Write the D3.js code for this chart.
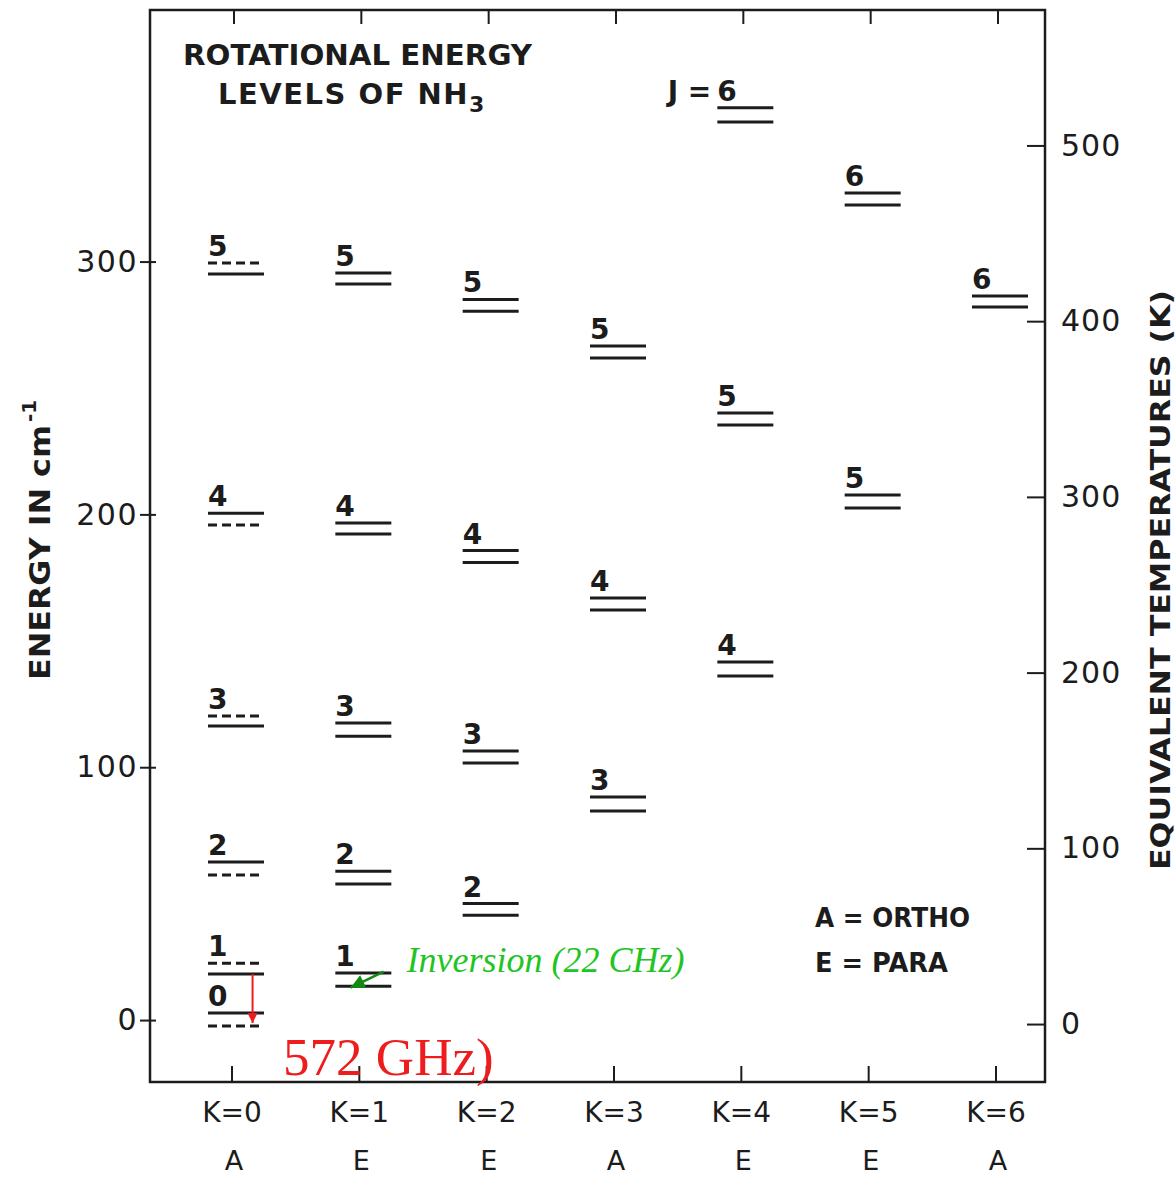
<!DOCTYPE html>
<html>
<head>
<meta charset="utf-8">
<script src="https://cdn.jsdelivr.net/npm/d3@7"></script>
<style>
  body { margin: 0; background: #fff; }
</style>
</head>
<body>
<div id="chart"></div>
<script>
// K ladders along the bottom
const kValues = [0, 1, 2, 3, 4, 5, 6];
const kLabels = ["K=0", "K=1", "K=2", "K=3", "K=4", "K=5", "K=6"];
const symLabels = ["A", "E", "E", "A", "E", "E", "A"];

const energyTicks = [0, 100, 200, 300];
const tempTicks = [0, 100, 200, 300, 400, 500];

// each level: K, J, upper / lower inversion component (cm^-1)
const levelK = [0, 0, 0, 0, 0, 0, 1, 1, 1, 1, 1, 2, 2, 2, 2, 3, 3, 3, 4, 4, 4, 5, 5, 6];
const levelJ = [0, 1, 2, 3, 4, 5, 1, 2, 3, 4, 5, 2, 3, 4, 5, 3, 4, 5, 4, 5, 6, 5, 6, 6];
const upperE = [2.8, 22.5, 62.5, 120.3, 200.5, 299.4,
                18.6, 58.9, 117.5, 196.6, 295.5,
                46.1, 106.4, 185.7, 285.0,
                88.2, 166.9, 266.6,
                141.6, 240.1, 360.8,
                207.7, 327.1,
                286.4];
const lowerE = [-2.4, 18.2, 57.4, 116.3, 195.8, 295.1,
                13.4, 53.8, 112.3, 192.2, 291.1,
                41.5, 101.7, 181.0, 280.3,
                82.7, 162.2, 261.9,
                136.1, 235.4, 355.2,
                202.5, 322.4,
                282.0];
// missing component (drawn dashed) for K=0
const dashedPart = ["lower", "upper", "lower", "upper", "lower", "upper",
                    "", "", "", "", "", "", "", "", "", "", "", "", "", "", "", "", "", ""];

const cm2K = 1.4388;

const W = 1175, H = 1180;
const plot = { left: 150, right: 1045, top: 10, bottom: 1082 };

const svg = d3.select('#chart')
    .append('svg')
    .attr('width', W)
    .attr('height', H)
    .style('font-family', '"DejaVu Sans", sans-serif');

const xScale = d3.scaleLinear()
    .domain([0, 6])
    .range([236, 1000]);

const yScale = d3.scaleLinear()
    .domain([-24.5, 399.5])
    .range([plot.bottom, plot.top]);

const tScale = d3.scaleLinear()
    .domain([-24.5 * cm2K, 399.5 * cm2K])
    .range([plot.bottom + 4, plot.top + 4]);

const ink = '#1c1c1c';

// frame
svg.append('rect')
    .attr('x', plot.left)
    .attr('y', plot.top)
    .attr('width', plot.right - plot.left)
    .attr('height', plot.bottom - plot.top)
    .attr('fill', 'none')
    .attr('stroke', ink)
    .attr('stroke-width', 2.5);

// top and bottom ticks at each K
svg.selectAll('.ttick')
    .data(kValues)
    .enter()
    .append('line')
    .attr('x1', d => xScale(d) - 2).attr('x2', d => xScale(d) - 2)
    .attr('y1', plot.top).attr('y2', plot.top + 14)
    .attr('stroke', ink).attr('stroke-width', 2);

svg.selectAll('.btick')
    .data(kValues)
    .enter()
    .append('line')
    .attr('x1', d => xScale(d) - 4).attr('x2', d => xScale(d) - 4)
    .attr('y1', plot.bottom).attr('y2', plot.bottom - 16)
    .attr('stroke', ink).attr('stroke-width', 2);

// left energy axis
const leftAxis = svg.append('g')
    .attr('transform', `translate(${plot.left},0)`)
    .call(d3.axisLeft(yScale).tickValues(energyTicks).tickSizeInner(10).tickSizeOuter(0).tickPadding(2));
leftAxis.select('.domain').remove();
leftAxis.selectAll('line').attr('x1', 6).attr('stroke', ink).attr('stroke-width', 2);
leftAxis.selectAll('text')
    .attr('font-size', 30)
    .attr('letter-spacing', 1.5)
    .attr('fill', ink)
    .attr('font-family', '"DejaVu Sans", sans-serif');

// right temperature axis
const rightAxis = svg.append('g')
    .attr('transform', `translate(${plot.right},0)`)
    .call(d3.axisRight(tScale).tickValues(tempTicks).tickSizeInner(-18).tickSizeOuter(0).tickPadding(16));
rightAxis.select('.domain').remove();
rightAxis.selectAll('line').attr('stroke', ink).attr('stroke-width', 2);
rightAxis.selectAll('text')
    .attr('font-size', 30)
    .attr('letter-spacing', 1)
    .attr('fill', ink)
    .attr('font-family', '"DejaVu Sans", sans-serif');

// energy levels
const levels = levelK.map((k, i) => ({
    k: k, j: levelJ[i], up: upperE[i], lo: lowerE[i], dash: dashedPart[i]
}));
const halfW = 28;

const lev = svg.selectAll('.level')
    .data(levels)
    .enter()
    .append('g')
    .attr('class', 'level');

lev.append('line')
    .attr('x1', d => xScale(d.k) - halfW)
    .attr('x2', d => xScale(d.k) + halfW)
    .attr('y1', d => yScale(d.up))
    .attr('y2', d => yScale(d.up))
    .attr('stroke', ink)
    .attr('stroke-width', 3)
    .attr('stroke-dasharray', d => d.dash === 'upper' ? '9,5' : null);

lev.append('line')
    .attr('x1', d => xScale(d.k) - halfW)
    .attr('x2', d => xScale(d.k) + halfW)
    .attr('y1', d => yScale(d.lo))
    .attr('y2', d => yScale(d.lo))
    .attr('stroke', ink)
    .attr('stroke-width', 3)
    .attr('stroke-dasharray', d => d.dash === 'lower' ? '9,5' : null);

lev.append('text')
    .attr('x', d => xScale(d.k) - halfW)
    .attr('y', d => yScale(d.up) - 7)
    .attr('font-size', 28)
    .attr('font-weight', 'bold')
    .attr('fill', ink)
    .text(d => d.j);

// "J =" in front of the highest level
const topLevel = levels[d3.maxIndex(levels, d => d.up)];
svg.append('text')
    .attr('x', xScale(topLevel.k) - halfW - 6)
    .attr('y', yScale(topLevel.up) - 7)
    .attr('text-anchor', 'end')
    .attr('font-size', 28)
    .attr('font-weight', 'bold')
    .attr('fill', ink)
    .text('J = ');

// bottom K labels and symmetry
svg.selectAll('.klabel')
    .data(kValues)
    .enter()
    .append('text')
    .attr('x', d => xScale(d) - 4)
    .attr('y', 1122)
    .attr('text-anchor', 'middle')
    .attr('font-size', 28)
    .attr('fill', ink)
    .text(d => kLabels[d]);

svg.selectAll('.sym')
    .data(kValues)
    .enter()
    .append('text')
    .attr('x', d => xScale(d) - 2)
    .attr('y', 1170)
    .attr('text-anchor', 'middle')
    .attr('font-size', 27)
    .attr('fill', ink)
    .text(d => symLabels[d]);

// title
svg.append('text')
    .attr('x', 183)
    .attr('y', 65)
    .attr('font-size', 29)
    .attr('font-weight', 'bold')
    .attr('textLength', 349)
    .attr('lengthAdjust', 'spacingAndGlyphs')
    .attr('fill', ink)
    .text('ROTATIONAL ENERGY');

const t2 = svg.append('text')
    .attr('x', 218)
    .attr('y', 104)
    .attr('font-size', 29)
    .attr('font-weight', 'bold')
    .attr('letter-spacing', 1.5)
    .attr('fill', ink);
t2.append('tspan').text('LEVELS OF NH');
t2.append('tspan').attr('dy', 8).attr('font-size', 22).text('3');

// axis titles
const yt = svg.append('g').attr('transform', 'translate(50,680) rotate(-90)');
yt.append('text')
    .attr('x', 0).attr('y', 0)
    .attr('font-size', 28)
    .attr('font-weight', 'bold')
    .attr('textLength', 255)
    .attr('lengthAdjust', 'spacingAndGlyphs')
    .attr('fill', ink)
    .text('ENERGY IN cm');
yt.append('text')
    .attr('x', 258).attr('y', -14)
    .attr('font-size', 20)
    .attr('font-weight', 'bold')
    .attr('fill', ink)
    .text('-1');

svg.append('g').attr('transform', 'translate(1170,870) rotate(-90)')
    .append('text')
    .attr('x', 0).attr('y', 0)
    .attr('font-size', 26)
    .attr('font-weight', 'bold')
    .attr('textLength', 580)
    .attr('lengthAdjust', 'spacingAndGlyphs')
    .attr('fill', ink)
    .text('EQUIVALENT TEMPERATURES (K)');

// legend
svg.append('text')
    .attr('x', 815).attr('y', 927)
    .attr('font-size', 27).attr('font-weight', 'bold')
    .attr('textLength', 155).attr('lengthAdjust', 'spacingAndGlyphs')
    .attr('fill', ink)
    .text('A = ORTHO');
svg.append('text')
    .attr('x', 815).attr('y', 972)
    .attr('font-size', 27).attr('font-weight', 'bold')
    .attr('textLength', 133).attr('lengthAdjust', 'spacingAndGlyphs')
    .attr('fill', ink)
    .text('E = PARA');

// annotations
const red = '#ee1c1c';
const green = '#22c422';
const darkGreen = '#118a11';

const defs = svg.append('defs');
defs.append('marker')
    .attr('id', 'headRed')
    .attr('viewBox', '0 0 10 10')
    .attr('refX', 10).attr('refY', 5)
    .attr('markerWidth', 16).attr('markerHeight', 10)
    .attr('markerUnits', 'userSpaceOnUse')
    .attr('orient', 'auto')
    .append('path').attr('d', 'M0,0 L10,5 L0,10 Z').attr('fill', red);
defs.append('marker')
    .attr('id', 'headGreen')
    .attr('viewBox', '0 0 10 10')
    .attr('refX', 10).attr('refY', 5)
    .attr('markerWidth', 18).attr('markerHeight', 14)
    .attr('markerUnits', 'userSpaceOnUse')
    .attr('orient', 'auto')
    .append('path').attr('d', 'M0,0 L10,5 L0,10 Z').attr('fill', darkGreen);

// J=1 -> 0 rotational transition
svg.append('line')
    .attr('x1', xScale(0.13)).attr('x2', xScale(0.13))
    .attr('y1', yScale(lowerE[1]))
    .attr('y2', yScale(-1.2))
    .attr('stroke', red)
    .attr('stroke-width', 2)
    .attr('marker-end', 'url(#headRed)');

svg.append('text')
    .attr('x', xScale(0.37))
    .attr('y', 1075)
    .attr('font-family', '"Liberation Serif", "Times New Roman", serif')
    .attr('font-size', 53)
    .attr('fill', red)
    .text('572 GHz)');

// inversion doublet arrow
svg.append('line')
    .attr('x1', xScale(1.16)).attr('x2', xScale(0.9))
    .attr('y1', yScale(19.2))
    .attr('y2', yScale(12.8))
    .attr('stroke', darkGreen)
    .attr('stroke-width', 2.5)
    .attr('marker-end', 'url(#headGreen)');

svg.append('text')
    .attr('x', xScale(1.34))
    .attr('y', yScale(19.2))
    .attr('font-family', '"Liberation Serif", "Times New Roman", serif')
    .attr('font-style', 'italic')
    .attr('font-size', 36)
    .attr('fill', green)
    .text('Inversion (22 CHz)');
</script>
</body>
</html>
